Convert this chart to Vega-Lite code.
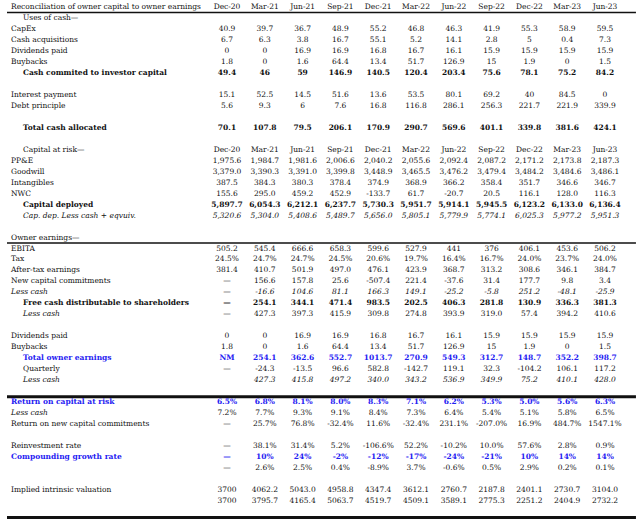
{
  "$schema": "https://vega.github.io/schema/vega-lite/v6.json",
  "width": 640,
  "height": 525,
  "autosize": {"type": "none"},
  "padding": 0,
  "background": "white",
  "config": {
    "view": {"stroke": null},
    "text": {"font": "DejaVu Serif", "fontSize": 7.5, "color": "#111111", "baseline": "middle"},
    "rule": {"color": "#111111"}
  },
  "datasets": {
    "rules": [
      {"pos": 0.5, "kind": "thin"},
      {"pos": 21.5, "kind": "thin"},
      {"pos": 35.5, "kind": "thick"},
      {"pos": 46.5, "kind": "thick"}
    ],
    "rows": [
      {"line": 0, "label": "Reconciliation of owner capital to owner earnings", "indent": 0, "lk": "n", "vk": "n", "Dec-20": "Dec-20", "Mar-21": "Mar-21", "Jun-21": "Jun-21", "Sep-21": "Sep-21", "Dec-21": "Dec-21", "Mar-22": "Mar-22", "Jun-22": "Jun-22", "Sep-22": "Sep-22", "Dec-22": "Dec-22", "Mar-23": "Mar-23", "Jun-23": "Jun-23"},
      {"line": 1, "label": "Uses of cash—", "indent": 1, "lk": "n", "vk": "n"},
      {"line": 2, "label": "CapEx", "indent": 0, "lk": "n", "vk": "n", "Dec-20": "40.9", "Mar-21": "39.7", "Jun-21": "36.7", "Sep-21": "48.9", "Dec-21": "55.2", "Mar-22": "46.8", "Jun-22": "46.3", "Sep-22": "41.9", "Dec-22": "55.3", "Mar-23": "58.9", "Jun-23": "59.5"},
      {"line": 3, "label": "Cash acquisitions", "indent": 0, "lk": "n", "vk": "n", "Dec-20": "6.7", "Mar-21": "6.3", "Jun-21": "3.8", "Sep-21": "16.7", "Dec-21": "55.1", "Mar-22": "5.2", "Jun-22": "14.1", "Sep-22": "2.8", "Dec-22": "5", "Mar-23": "0.4", "Jun-23": "7.3"},
      {"line": 4, "label": "Dividends paid", "indent": 0, "lk": "n", "vk": "n", "Dec-20": "0", "Mar-21": "0", "Jun-21": "16.9", "Sep-21": "16.9", "Dec-21": "16.8", "Mar-22": "16.7", "Jun-22": "16.1", "Sep-22": "15.9", "Dec-22": "15.9", "Mar-23": "15.9", "Jun-23": "15.9"},
      {"line": 5, "label": "Buybacks", "indent": 0, "lk": "n", "vk": "n", "Dec-20": "1.8", "Mar-21": "0", "Jun-21": "1.6", "Sep-21": "64.4", "Dec-21": "13.4", "Mar-22": "51.7", "Jun-22": "126.9", "Sep-22": "15", "Dec-22": "1.9", "Mar-23": "0", "Jun-23": "1.5"},
      {"line": 6, "label": "Cash commited to investor capital", "indent": 1, "lk": "b", "vk": "b", "Dec-20": "49.4", "Mar-21": "46", "Jun-21": "59", "Sep-21": "146.9", "Dec-21": "140.5", "Mar-22": "120.4", "Jun-22": "203.4", "Sep-22": "75.6", "Dec-22": "78.1", "Mar-23": "75.2", "Jun-23": "84.2"},
      {"line": 8, "label": "Interest payment", "indent": 0, "lk": "n", "vk": "n", "Dec-20": "15.1", "Mar-21": "52.5", "Jun-21": "14.5", "Sep-21": "51.6", "Dec-21": "13.6", "Mar-22": "53.5", "Jun-22": "80.1", "Sep-22": "69.2", "Dec-22": "40", "Mar-23": "84.5", "Jun-23": "0"},
      {"line": 9, "label": "Debt principle", "indent": 0, "lk": "n", "vk": "n", "Dec-20": "5.6", "Mar-21": "9.3", "Jun-21": "6", "Sep-21": "7.6", "Dec-21": "16.8", "Mar-22": "116.8", "Jun-22": "286.1", "Sep-22": "256.3", "Dec-22": "221.7", "Mar-23": "221.9", "Jun-23": "339.9"},
      {"line": 11, "label": "Total cash allocated", "indent": 1, "lk": "b", "vk": "b", "Dec-20": "70.1", "Mar-21": "107.8", "Jun-21": "79.5", "Sep-21": "206.1", "Dec-21": "170.9", "Mar-22": "290.7", "Jun-22": "569.6", "Sep-22": "401.1", "Dec-22": "339.8", "Mar-23": "381.6", "Jun-23": "424.1"},
      {"line": 13, "label": "Capital at risk—", "indent": 1, "lk": "n", "vk": "n", "Dec-20": "Dec-20", "Mar-21": "Mar-21", "Jun-21": "Jun-21", "Sep-21": "Sep-21", "Dec-21": "Dec-21", "Mar-22": "Mar-22", "Jun-22": "Jun-22", "Sep-22": "Sep-22", "Dec-22": "Dec-22", "Mar-23": "Mar-23", "Jun-23": "Jun-23"},
      {"line": 14, "label": "PP&E", "indent": 0, "lk": "n", "vk": "n", "Dec-20": "1,975.6", "Mar-21": "1,984.7", "Jun-21": "1,981.6", "Sep-21": "2,006.6", "Dec-21": "2,040.2", "Mar-22": "2,055.6", "Jun-22": "2,092.4", "Sep-22": "2,087.2", "Dec-22": "2,171.2", "Mar-23": "2,173.8", "Jun-23": "2,187.3"},
      {"line": 15, "label": "Goodwill", "indent": 0, "lk": "n", "vk": "n", "Dec-20": "3,379.0", "Mar-21": "3,390.3", "Jun-21": "3,391.0", "Sep-21": "3,399.8", "Dec-21": "3,448.9", "Mar-22": "3,465.5", "Jun-22": "3,476.2", "Sep-22": "3,479.4", "Dec-22": "3,484.2", "Mar-23": "3,484.6", "Jun-23": "3,486.1"},
      {"line": 16, "label": "Intangibles", "indent": 0, "lk": "n", "vk": "n", "Dec-20": "387.5", "Mar-21": "384.3", "Jun-21": "380.3", "Sep-21": "378.4", "Dec-21": "374.9", "Mar-22": "368.9", "Jun-22": "366.2", "Sep-22": "358.4", "Dec-22": "351.7", "Mar-23": "346.6", "Jun-23": "346.7"},
      {"line": 17, "label": "NWC", "indent": 0, "lk": "n", "vk": "n", "Dec-20": "155.6", "Mar-21": "295.0", "Jun-21": "459.2", "Sep-21": "452.9", "Dec-21": "-133.7", "Mar-22": "61.7", "Jun-22": "-20.7", "Sep-22": "20.5", "Dec-22": "116.1", "Mar-23": "128.0", "Jun-23": "116.3"},
      {"line": 18, "label": "Capital deployed", "indent": 1, "lk": "b", "vk": "b", "Dec-20": "5,897.7", "Mar-21": "6,054.3", "Jun-21": "6,212.1", "Sep-21": "6,237.7", "Dec-21": "5,730.3", "Mar-22": "5,951.7", "Jun-22": "5,914.1", "Sep-22": "5,945.5", "Dec-22": "6,123.2", "Mar-23": "6,133.0", "Jun-23": "6,136.4"},
      {"line": 19, "label": "Cap. dep. Less cash + eqvuiv.", "indent": 1, "lk": "i", "vk": "i", "Dec-20": "5,320.6", "Mar-21": "5,304.0", "Jun-21": "5,408.6", "Sep-21": "5,489.7", "Dec-21": "5,656.0", "Mar-22": "5,805.1", "Jun-22": "5,779.9", "Sep-22": "5,774.1", "Dec-22": "6,025.3", "Mar-23": "5,977.2", "Jun-23": "5,951.3"},
      {"line": 21, "label": "Owner earnings—", "indent": 0, "lk": "n", "vk": "n"},
      {"line": 22, "label": "EBITA", "indent": 0, "lk": "n", "vk": "n", "Dec-20": "505.2", "Mar-21": "545.4", "Jun-21": "666.6", "Sep-21": "658.3", "Dec-21": "599.6", "Mar-22": "527.9", "Jun-22": "441", "Sep-22": "376", "Dec-22": "406.1", "Mar-23": "453.6", "Jun-23": "506.2"},
      {"line": 23, "label": "Tax", "indent": 0, "lk": "n", "vk": "n", "Dec-20": "24.5%", "Mar-21": "24.7%", "Jun-21": "24.7%", "Sep-21": "24.5%", "Dec-21": "20.6%", "Mar-22": "19.7%", "Jun-22": "16.4%", "Sep-22": "16.7%", "Dec-22": "24.0%", "Mar-23": "23.7%", "Jun-23": "24.0%"},
      {"line": 24, "label": "After-tax earnings", "indent": 0, "lk": "n", "vk": "n", "Dec-20": "381.4", "Mar-21": "410.7", "Jun-21": "501.9", "Sep-21": "497.0", "Dec-21": "476.1", "Mar-22": "423.9", "Jun-22": "368.7", "Sep-22": "313.2", "Dec-22": "308.6", "Mar-23": "346.1", "Jun-23": "384.7"},
      {"line": 25, "label": "New capital commitments", "indent": 0, "lk": "n", "vk": "n", "Dec-20": "—", "Mar-21": "156.6", "Jun-21": "157.8", "Sep-21": "25.6", "Dec-21": "-507.4", "Mar-22": "221.4", "Jun-22": "-37.6", "Sep-22": "31.4", "Dec-22": "177.7", "Mar-23": "9.8", "Jun-23": "3.4"},
      {"line": 26, "label": "Less cash", "indent": 0, "lk": "i", "vk": "i", "Dec-20": "—", "Mar-21": "-16.6", "Jun-21": "104.6", "Sep-21": "81.1", "Dec-21": "166.3", "Mar-22": "149.1", "Jun-22": "-25.2", "Sep-22": "-5.8", "Dec-22": "251.2", "Mar-23": "-48.1", "Jun-23": "-25.9"},
      {"line": 27, "label": "Free cash distributable to shareholders", "indent": 1, "lk": "b", "vk": "b", "Dec-20": "—", "Mar-21": "254.1", "Jun-21": "344.1", "Sep-21": "471.4", "Dec-21": "983.5", "Mar-22": "202.5", "Jun-22": "406.3", "Sep-22": "281.8", "Dec-22": "130.9", "Mar-23": "336.3", "Jun-23": "381.3"},
      {"line": 28, "label": "Less cash", "indent": 1, "lk": "i", "vk": "n", "Dec-20": "—", "Mar-21": "427.3", "Jun-21": "397.3", "Sep-21": "415.9", "Dec-21": "309.8", "Mar-22": "274.8", "Jun-22": "393.9", "Sep-22": "319.0", "Dec-22": "57.4", "Mar-23": "394.2", "Jun-23": "410.6"},
      {"line": 30, "label": "Dividends paid", "indent": 0, "lk": "n", "vk": "n", "Dec-20": "0", "Mar-21": "0", "Jun-21": "16.9", "Sep-21": "16.9", "Dec-21": "16.8", "Mar-22": "16.7", "Jun-22": "16.1", "Sep-22": "15.9", "Dec-22": "15.9", "Mar-23": "15.9", "Jun-23": "15.9"},
      {"line": 31, "label": "Buybacks", "indent": 0, "lk": "n", "vk": "n", "Dec-20": "1.8", "Mar-21": "0", "Jun-21": "1.6", "Sep-21": "64.4", "Dec-21": "13.4", "Mar-22": "51.7", "Jun-22": "126.9", "Sep-22": "15", "Dec-22": "1.9", "Mar-23": "0", "Jun-23": "1.5"},
      {"line": 32, "label": "Total owner earnings", "indent": 1, "lk": "blue", "vk": "blue", "Dec-20": "NM", "Mar-21": "254.1", "Jun-21": "362.6", "Sep-21": "552.7", "Dec-21": "1013.7", "Mar-22": "270.9", "Jun-22": "549.3", "Sep-22": "312.7", "Dec-22": "148.7", "Mar-23": "352.2", "Jun-23": "398.7"},
      {"line": 33, "label": "Quarterly", "indent": 1, "lk": "n", "vk": "n", "Dec-20": "—", "Mar-21": "-24.3", "Jun-21": "-13.5", "Sep-21": "96.6", "Dec-21": "582.8", "Mar-22": "-142.7", "Jun-22": "119.1", "Sep-22": "32.3", "Dec-22": "-104.2", "Mar-23": "106.1", "Jun-23": "117.2"},
      {"line": 34, "label": "Less cash", "indent": 1, "lk": "i", "vk": "i", "Mar-21": "427.3", "Jun-21": "415.8", "Sep-21": "497.2", "Dec-21": "340.0", "Mar-22": "343.2", "Jun-22": "536.9", "Sep-22": "349.9", "Dec-22": "75.2", "Mar-23": "410.1", "Jun-23": "428.0"},
      {"line": 36, "label": "Return on capital at risk", "indent": 0, "lk": "blue", "vk": "blue", "Dec-20": "6.5%", "Mar-21": "6.8%", "Jun-21": "8.1%", "Sep-21": "8.0%", "Dec-21": "8.3%", "Mar-22": "7.1%", "Jun-22": "6.2%", "Sep-22": "5.3%", "Dec-22": "5.0%", "Mar-23": "5.6%", "Jun-23": "6.3%"},
      {"line": 37, "label": "Less cash", "indent": 0, "lk": "i", "vk": "n", "Dec-20": "7.2%", "Mar-21": "7.7%", "Jun-21": "9.3%", "Sep-21": "9.1%", "Dec-21": "8.4%", "Mar-22": "7.3%", "Jun-22": "6.4%", "Sep-22": "5.4%", "Dec-22": "5.1%", "Mar-23": "5.8%", "Jun-23": "6.5%"},
      {"line": 38, "label": "Return on new capital commitments", "indent": 0, "lk": "n", "vk": "n", "Dec-20": "—", "Mar-21": "25.7%", "Jun-21": "76.8%", "Sep-21": "-32.4%", "Dec-21": "11.6%", "Mar-22": "-32.4%", "Jun-22": "231.1%", "Sep-22": "-207.0%", "Dec-22": "16.9%", "Mar-23": "484.7%", "Jun-23": "1547.1%"},
      {"line": 40, "label": "Reinvestment rate", "indent": 0, "lk": "n", "vk": "n", "Dec-20": "—", "Mar-21": "38.1%", "Jun-21": "31.4%", "Sep-21": "5.2%", "Dec-21": "-106.6%", "Mar-22": "52.2%", "Jun-22": "-10.2%", "Sep-22": "10.0%", "Dec-22": "57.6%", "Mar-23": "2.8%", "Jun-23": "0.9%"},
      {"line": 41, "label": "Compounding growth rate", "indent": 0, "lk": "blue", "vk": "blue", "Dec-20": "—", "Mar-21": "10%", "Jun-21": "24%", "Sep-21": "-2%", "Dec-21": "-12%", "Mar-22": "-17%", "Jun-22": "-24%", "Sep-22": "-21%", "Dec-22": "10%", "Mar-23": "14%", "Jun-23": "14%"},
      {"line": 42, "label": "", "indent": 0, "lk": "n", "vk": "n", "Dec-20": "—", "Mar-21": "2.6%", "Jun-21": "2.5%", "Sep-21": "0.4%", "Dec-21": "-8.9%", "Mar-22": "3.7%", "Jun-22": "-0.6%", "Sep-22": "0.5%", "Dec-22": "2.9%", "Mar-23": "0.2%", "Jun-23": "0.1%"},
      {"line": 44, "label": "Implied intrinsic valuation", "indent": 0, "lk": "n", "vk": "n", "Dec-20": "3700", "Mar-21": "4062.2", "Jun-21": "5043.0", "Sep-21": "4958.8", "Dec-21": "4347.4", "Mar-22": "3612.1", "Jun-22": "2760.7", "Sep-22": "2187.8", "Dec-22": "2401.1", "Mar-23": "2730.7", "Jun-23": "3104.0"},
      {"line": 45, "label": "", "indent": 0, "lk": "n", "vk": "n", "Dec-20": "3700", "Mar-21": "3795.7", "Jun-21": "4165.4", "Sep-21": "5063.7", "Dec-21": "4519.7", "Mar-22": "4509.1", "Jun-22": "3589.1", "Sep-22": "2775.3", "Dec-22": "2251.2", "Mar-23": "2404.9", "Jun-23": "2732.2"}
    ]
  },
  "resolve": {"scale": {"x": "independent"}},
  "layer": [
    {
      "data": {"name": "rules"},
      "mark": {"type": "rule"},
      "encoding": {
        "y": {"field": "pos", "type": "quantitative", "axis": null, "scale": {"domain": [-0.6376, 47.185], "reverse": true, "nice": false, "zero": false}},
        "x": {"datum": -0.333, "type": "quantitative", "axis": null, "scale": {"domain": [-0.9167, 52.417], "nice": false, "zero": false}},
        "x2": {"datum": 52.08},
        "size": {"field": "kind", "type": "ordinal", "scale": {"domain": ["thin", "thick"], "range": [1.6, 3]}, "legend": null}
      }
    },
    {
      "data": {"name": "rows"},
      "transform": [{"filter": "datum.label != '' && datum.lk == 'n'"}],
      "mark": {"type": "text", "align": "left"},
      "encoding": {
        "y": {"field": "line", "type": "quantitative", "axis": null, "scale": {"domain": [-0.6376, 47.185], "reverse": true, "nice": false, "zero": false}},
        "x": {"field": "indent", "type": "quantitative", "axis": null, "scale": {"domain": [-0.9167, 52.417], "nice": false, "zero": false}},
        "text": {"field": "label"}
      }
    },
    {
      "data": {"name": "rows"},
      "transform": [{"filter": "datum.lk == 'b'"}],
      "mark": {"type": "text", "align": "left", "fontWeight": "bold"},
      "encoding": {
        "y": {"field": "line", "type": "quantitative", "axis": null, "scale": {"domain": [-0.6376, 47.185], "reverse": true, "nice": false, "zero": false}},
        "x": {"field": "indent", "type": "quantitative", "axis": null, "scale": {"domain": [-0.9167, 52.417], "nice": false, "zero": false}},
        "text": {"field": "label"}
      }
    },
    {
      "data": {"name": "rows"},
      "transform": [{"filter": "datum.lk == 'i'"}],
      "mark": {"type": "text", "align": "left", "fontStyle": "italic"},
      "encoding": {
        "y": {"field": "line", "type": "quantitative", "axis": null, "scale": {"domain": [-0.6376, 47.185], "reverse": true, "nice": false, "zero": false}},
        "x": {"field": "indent", "type": "quantitative", "axis": null, "scale": {"domain": [-0.9167, 52.417], "nice": false, "zero": false}},
        "text": {"field": "label"}
      }
    },
    {
      "data": {"name": "rows"},
      "transform": [{"filter": "datum.lk == 'blue'"}],
      "mark": {"type": "text", "align": "left", "fontWeight": "bold", "color": "#1f22f2"},
      "encoding": {
        "y": {"field": "line", "type": "quantitative", "axis": null, "scale": {"domain": [-0.6376, 47.185], "reverse": true, "nice": false, "zero": false}},
        "x": {"field": "indent", "type": "quantitative", "axis": null, "scale": {"domain": [-0.9167, 52.417], "nice": false, "zero": false}},
        "text": {"field": "label"}
      }
    },
    {
      "data": {"name": "rows"},
      "transform": [
        {"fold": ["Dec-20", "Mar-21", "Jun-21", "Sep-21", "Dec-21", "Mar-22", "Jun-22", "Sep-22", "Dec-22", "Mar-23", "Jun-23"], "as": ["period", "cell"]},
        {"filter": "isValid(datum.cell) && datum.cell != '' && datum.vk == 'n'"}
      ],
      "mark": {"type": "text", "align": "center"},
      "encoding": {
        "y": {"field": "line", "type": "quantitative", "axis": null, "scale": {"domain": [-0.6376, 47.185], "reverse": true, "nice": false, "zero": false}},
        "x": {"field": "period", "type": "nominal", "axis": null, "scale": {"type": "point", "domain": ["Dec-20", "Mar-21", "Jun-21", "Sep-21", "Dec-21", "Mar-22", "Jun-22", "Sep-22", "Dec-22", "Mar-23", "Jun-23"], "padding": 0, "range": [227, 605]}},
        "text": {"field": "cell"}
      }
    },
    {
      "data": {"name": "rows"},
      "transform": [
        {"fold": ["Dec-20", "Mar-21", "Jun-21", "Sep-21", "Dec-21", "Mar-22", "Jun-22", "Sep-22", "Dec-22", "Mar-23", "Jun-23"], "as": ["period", "cell"]},
        {"filter": "isValid(datum.cell) && datum.cell != '' && datum.vk == 'b'"}
      ],
      "mark": {"type": "text", "align": "center", "fontWeight": "bold"},
      "encoding": {
        "y": {"field": "line", "type": "quantitative", "axis": null, "scale": {"domain": [-0.6376, 47.185], "reverse": true, "nice": false, "zero": false}},
        "x": {"field": "period", "type": "nominal", "axis": null, "scale": {"type": "point", "domain": ["Dec-20", "Mar-21", "Jun-21", "Sep-21", "Dec-21", "Mar-22", "Jun-22", "Sep-22", "Dec-22", "Mar-23", "Jun-23"], "padding": 0, "range": [227, 605]}},
        "text": {"field": "cell"}
      }
    },
    {
      "data": {"name": "rows"},
      "transform": [
        {"fold": ["Dec-20", "Mar-21", "Jun-21", "Sep-21", "Dec-21", "Mar-22", "Jun-22", "Sep-22", "Dec-22", "Mar-23", "Jun-23"], "as": ["period", "cell"]},
        {"filter": "isValid(datum.cell) && datum.cell != '' && datum.vk == 'i'"}
      ],
      "mark": {"type": "text", "align": "center", "fontStyle": "italic"},
      "encoding": {
        "y": {"field": "line", "type": "quantitative", "axis": null, "scale": {"domain": [-0.6376, 47.185], "reverse": true, "nice": false, "zero": false}},
        "x": {"field": "period", "type": "nominal", "axis": null, "scale": {"type": "point", "domain": ["Dec-20", "Mar-21", "Jun-21", "Sep-21", "Dec-21", "Mar-22", "Jun-22", "Sep-22", "Dec-22", "Mar-23", "Jun-23"], "padding": 0, "range": [227, 605]}},
        "text": {"field": "cell"}
      }
    },
    {
      "data": {"name": "rows"},
      "transform": [
        {"fold": ["Dec-20", "Mar-21", "Jun-21", "Sep-21", "Dec-21", "Mar-22", "Jun-22", "Sep-22", "Dec-22", "Mar-23", "Jun-23"], "as": ["period", "cell"]},
        {"filter": "isValid(datum.cell) && datum.cell != '' && datum.vk == 'blue'"}
      ],
      "mark": {"type": "text", "align": "center", "fontWeight": "bold", "color": "#1f22f2"},
      "encoding": {
        "y": {"field": "line", "type": "quantitative", "axis": null, "scale": {"domain": [-0.6376, 47.185], "reverse": true, "nice": false, "zero": false}},
        "x": {"field": "period", "type": "nominal", "axis": null, "scale": {"type": "point", "domain": ["Dec-20", "Mar-21", "Jun-21", "Sep-21", "Dec-21", "Mar-22", "Jun-22", "Sep-22", "Dec-22", "Mar-23", "Jun-23"], "padding": 0, "range": [227, 605]}},
        "text": {"field": "cell"}
      }
    }
  ]
}
